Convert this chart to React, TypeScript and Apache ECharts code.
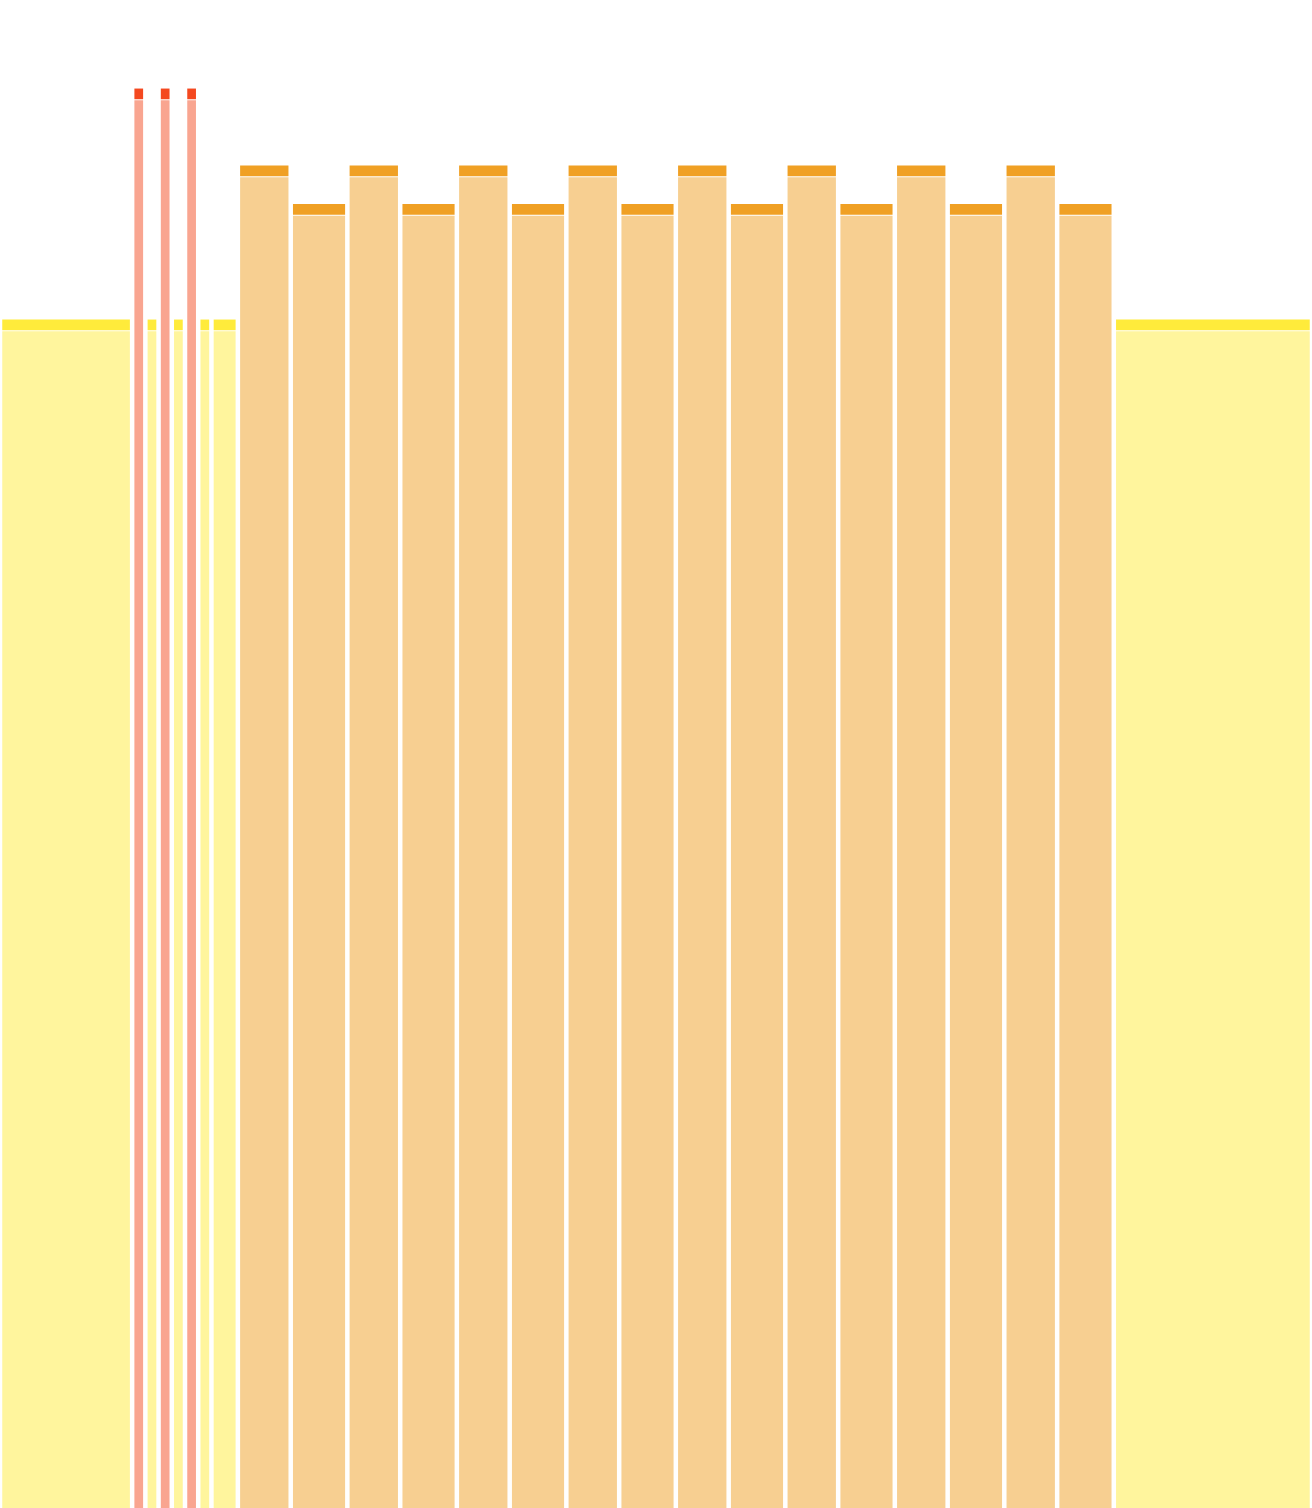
import React, { useEffect, useRef } from "react";
import * as echarts from "echarts";

// Slot widths (x units) of each column, left to right
const segmentWidths: number[] = [
  70, 7, 7, 7, 7, 7, 7, 14,
  28, 30, 28, 30, 28, 30, 28, 30, 28, 30, 28, 30, 28, 30, 28, 30,
  105,
];
// Height (y units) of each column
const segmentLevels: number[] = [
  31, 37, 31, 37, 31, 37, 31, 31,
  35, 34, 35, 34, 35, 34, 35, 34, 35, 34, 35, 34, 35, 34, 35, 34,
  31,
];
// Colour group of each column: 0 yellow, 1 red, 2 orange
const segmentGroups: number[] = [
  0, 1, 0, 1, 0, 1, 0, 0,
  2, 2, 2, 2, 2, 2, 2, 2, 2, 2, 2, 2, 2, 2, 2, 2,
  0,
];

const capColors = ["#FFEB3B", "#F4481F", "#F0A024"];
const bodyColors = ["#FFF59D", "#F9A590", "#F7CF91"];

const X_MAX = 695;
const Y_MAX = 39.3;

function buildData() {
  const out: number[][] = [];
  let start = 0;
  for (let i = 0; i < segmentWidths.length; i++) {
    const end = start + segmentWidths[i];
    out.push([start, end, segmentLevels[i], segmentGroups[i]]);
    start = end;
  }
  return out;
}

export default function App() {
  const ref = useRef<HTMLDivElement>(null);

  useEffect(() => {
    if (!ref.current) return;
    const chart = echarts.init(ref.current, undefined, { renderer: "svg" });
    const data = buildData();
    const GAP = 2.25;
    const CAP = 10.7;
    const SEP = 1;
    chart.setOption({
      animation: false,
      grid: { left: 0, right: 0, top: 0, bottom: 0 },
      xAxis: { type: "value", min: 0, max: X_MAX, show: false },
      yAxis: { type: "value", min: 0, max: Y_MAX, show: false },
      series: [
        {
          type: "custom",
          data,
          encode: { x: [0, 1], y: 2 },
          renderItem: (params: any, api: any) => {
            const x0 = api.value(0);
            const x1 = api.value(1);
            const v = api.value(2);
            const g = api.value(3);
            const pTop = api.coord([x0, v]);
            const pBot = api.coord([x1, 0]);
            const left = pTop[0] + GAP;
            const width = pBot[0] - GAP - left;
            const top = pTop[1];
            const bottom = pBot[1];
            return {
              type: "group",
              children: [
                {
                  type: "rect",
                  shape: { x: left, y: top + CAP + SEP, width, height: bottom - top - CAP - SEP },
                  style: { fill: bodyColors[g] },
                },
                {
                  type: "rect",
                  shape: { x: left, y: top, width, height: CAP },
                  style: { fill: capColors[g] },
                },
              ],
            };
          },
        },
      ],
    });
    return () => chart.dispose();
  }, []);

  return (
    <div
      style={{
        position: "absolute",
        left: 0,
        top: 0,
        width: 1312,
        height: 1508,
        overflow: "hidden",
        background: "#ffffff",
      }}
    >
      <div ref={ref} style={{ width: 1312, height: 1513 }} />
    </div>
  );
}
